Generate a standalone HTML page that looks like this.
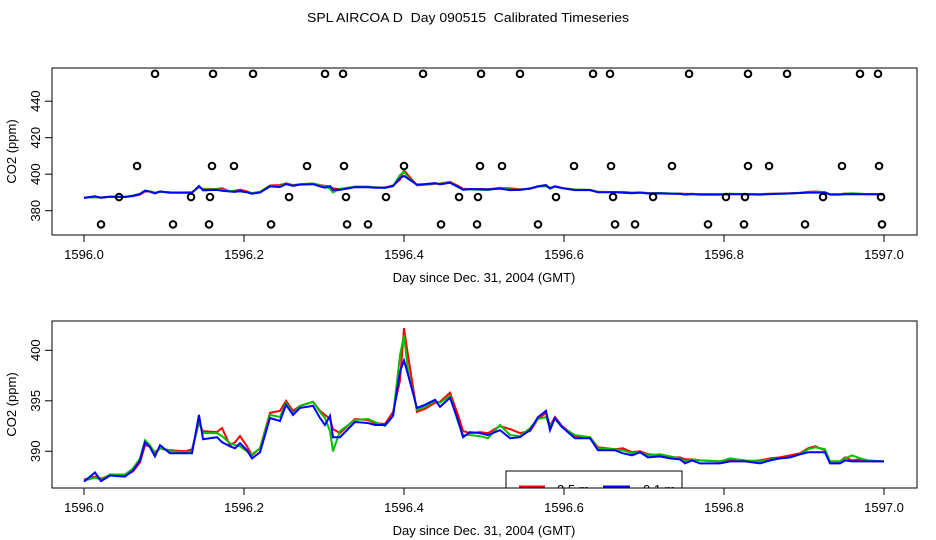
<!DOCTYPE html>
<html><head><meta charset="utf-8"><style>
body{margin:0;background:#fff}
svg{display:block;font-family:"Liberation Sans",sans-serif}
text{white-space:pre}
</style></head><body>
<svg id="chart" width="936" height="540" viewBox="0 0 936 540" xmlns="http://www.w3.org/2000/svg">
<defs>
<clipPath id="clipTop"><rect x="52" y="68" width="865" height="167"/></clipPath>
<clipPath id="clipBot"><rect x="52" y="321" width="865" height="167"/></clipPath>
</defs>
<text x="468" y="22" font-size="13" text-anchor="middle" textLength="322" lengthAdjust="spacingAndGlyphs">SPL AIRCOA D  Day 090515  Calibrated Timeseries</text>
<g id="top"></g>
<g id="bot"></g>
</svg>
<script>
const times=[84,95,101,110,125,133,140,145,150,155,160,170,185,192,199,203,217,222,230,235,240,247,252,260,270,280,286,293,300,313,320,325,330,333,340,355,368,375,385,393,400,404,408,417,425,435,440,450,458,463,470,480,488,500,510,520,530,538,546,550,555,562,575,590,598,615,623,632,640,648,660,670,680,685,692,700,720,730,745,760,770,780,790,800,808,815,825,830,840,845,852,860,868,884].map(x=>+(1596+(x-84)/800).toFixed(4));
const blue=[387.0,387.9,387.05,387.6,387.5,388.1,389.1,390.9,390.4,389.5,390.6,389.8,389.8,389.8,393.6,391.2,391.4,390.9,390.5,390.3,390.8,390.1,389.3,389.9,393.3,393.0,394.6,393.6,394.3,394.5,393.3,392.6,393.5,391.4,391.4,392.9,392.8,392.6,392.6,393.5,397.9,399.0,397.6,394.3,394.6,395.1,394.4,395.3,393.1,391.4,391.9,391.8,391.6,392.1,391.3,391.4,392.1,393.4,394.0,392.1,393.3,392.4,391.3,391.3,390.1,390.1,389.8,389.6,389.9,389.4,389.5,389.3,389.2,388.8,389.1,388.8,388.8,389.0,389.0,388.8,389.1,389.3,389.4,389.7,389.9,389.9,389.9,388.8,388.8,389.1,389.0,389.0,389.0,389.0];
const red=[387.2,387.5,387.3,387.6,387.6,388.0,388.9,390.6,390.5,389.9,390.3,390.1,390.0,390.2,392.8,392.0,391.9,392.3,390.6,390.9,391.5,390.5,389.6,390.3,393.8,394.0,395.0,394.0,394.5,394.9,394.0,393.6,393.2,392.2,391.8,393.2,393.1,392.8,392.7,393.9,397.0,402.2,399.5,393.9,394.2,394.8,394.9,395.8,393.6,392.0,391.8,391.9,391.8,392.5,392.2,391.8,392.0,393.2,393.8,392.5,393.4,392.5,391.5,391.4,390.4,390.2,390.3,389.9,390.0,389.7,389.6,389.4,389.4,389.2,389.2,389.1,389.0,389.2,389.0,389.1,389.3,389.4,389.6,389.8,390.3,390.5,390.1,389.0,389.0,389.4,389.1,389.2,389.0,389.0];
const green=[387.1,387.4,387.2,387.7,387.7,388.3,389.3,391.1,390.6,389.8,390.3,390.0,389.9,390.0,393.0,391.8,391.8,391.5,390.8,390.6,390.5,390.0,389.7,390.3,393.6,393.4,394.8,393.7,394.5,394.9,393.9,393.3,392.0,390.0,392.0,393.1,393.2,392.9,392.5,393.5,399.5,401.5,398.0,394.1,394.4,395.0,394.8,395.5,392.9,391.6,391.6,391.5,391.3,392.6,391.6,391.5,392.3,393.2,393.4,392.4,393.2,392.4,391.6,391.4,390.3,390.2,390.1,389.8,389.9,389.6,389.7,389.5,389.3,389.0,389.2,389.1,389.0,389.3,389.1,389.0,389.2,389.3,389.4,389.7,390.2,390.4,390.2,389.0,389.0,389.3,389.6,389.3,389.1,389.0];
const calLevels=[455,404.5,387.5,372.5];
const calTimes455=[1596.0888,1596.1613,1596.2113,1596.3013,1596.3238,1596.4238,1596.4963,1596.5450,1596.6363,1596.6575,1596.7563,1596.8300,1596.8788,1596.9700,1596.9925];
const calTimes404=[1596.0663,1596.1600,1596.1875,1596.2788,1596.3250,1596.4000,1596.4950,1596.5225,1596.6125,1596.6588,1596.7350,1596.8300,1596.8563,1596.9475,1596.9938];
const calTimes387=[1596.0438,1596.1338,1596.1575,1596.2563,1596.3275,1596.3775,1596.4688,1596.4925,1596.5900,1596.6613,1596.7113,1596.8025,1596.8263,1596.9238,1596.9963];
const calTimes372=[1596.0213,1596.1113,1596.1563,1596.2338,1596.3288,1596.3550,1596.4463,1596.4913,1596.5675,1596.6638,1596.6888,1596.7800,1596.8250,1596.9013,1596.9975];
const xTicks=[1596.0,1596.2,1596.4,1596.6,1596.8,1597.0];
const topYTicks=[380,400,420,440];
const botYTicks=[390,395,400];

const NS="http://www.w3.org/2000/svg";
function mk(tag,attrs,parent){const e=document.createElementNS(NS,tag);for(const k in attrs)e.setAttribute(k,attrs[k]);parent.appendChild(e);return e;}
const xs=t=>84+(t-1596)*800;
const yTop=v=>210.7-(v-380)*1.825;
const yBot=v=>350.3-(v-400)*10.1;

function panel(g,y0,y1,ys,yticks,clip){
  const box=mk('rect',{x:52,y:y0,width:865,height:y1-y0,fill:'none',stroke:'#000','stroke-width':1},g);
  
  
  xTicks.forEach(t=>{
    const l=mk('line',{x1:xs(t),x2:xs(t),y1:y1,y2:y1+7,stroke:'#000'},g);
    
    
    const tx=mk('text',{x:xs(t),y:y1+24,'font-size':13,'text-anchor':'middle'},g);
    
    
    tx.textContent=t.toFixed(1);
  });
  yticks.forEach(v=>{
    const l=mk('line',{x1:45,x2:52,y1:ys(v),y2:ys(v),stroke:'#000'},g);
    
    
    const tx=mk('text',{x:0,y:0,'font-size':13,'text-anchor':'middle',transform:`translate(40,${ys(v)}) rotate(-90)`},g);
    
    
    tx.textContent=String(v);
  });
  const xl=mk('text',{x:484,y:y1+47,'font-size':13,'text-anchor':'middle'},g);
  
  
  xl.textContent='Day since Dec. 31, 2004 (GMT)';
  const yl=mk('text',{x:0,y:0,'font-size':13,'text-anchor':'middle',transform:`translate(16,${(y0+y1)/2}) rotate(-90)`},g);
  
  
  yl.textContent='CO2 (ppm)';
  const cg=mk('g',{'clip-path':`url(#${clip})`},g);
  [['red',red],['#00c000',green],['blue',blue]].forEach(([c,arr],i)=>{
    const p=mk('polyline',{points:times.map((t,j)=>xs(t)+','+ys(arr[j]).toFixed(1)).join(' '),fill:'none',stroke:c,'stroke-width':2},cg);
    
    
  });
  return cg;
}
const tg=document.getElementById('top');
const tcg=panel(tg,68,235,yTop,topYTicks,'clipTop');
[calTimes455,calTimes404,calTimes387,calTimes372].forEach((arr,i)=>{
  arr.forEach(t=>{
    const c=mk('circle',{cx:xs(t),cy:yTop(calLevels[i]),r:3.3,fill:'none',stroke:'#000','stroke-width':2},tg);
    
    
  });
});
const bg=document.getElementById('bot');
const bcg=panel(bg,321,488,yBot,botYTicks,'clipBot');
const lg=mk('g',{'clip-path':'url(#clipBot)'},bg);


mk('rect',{x:506,y:471,width:176,height:40,fill:'#fff',stroke:'#000'},lg);
const l1=mk('line',{x1:519,x2:545,y1:486.5,y2:486.5,stroke:'red','stroke-width':2},lg);


const t1=mk('text',{x:557,y:494,'font-size':13},lg);


t1.textContent='2.5 m';
const l2=mk('line',{x1:603,x2:630,y1:486.5,y2:486.5,stroke:'blue','stroke-width':2},lg);


const t2=mk('text',{x:643,y:494,'font-size':13},lg);


t2.textContent='0.1 m';
const fr=mk('rect',{x:52,y:321,width:865,height:167,fill:'none',stroke:'#000'},bg);


</script>
</body></html>
